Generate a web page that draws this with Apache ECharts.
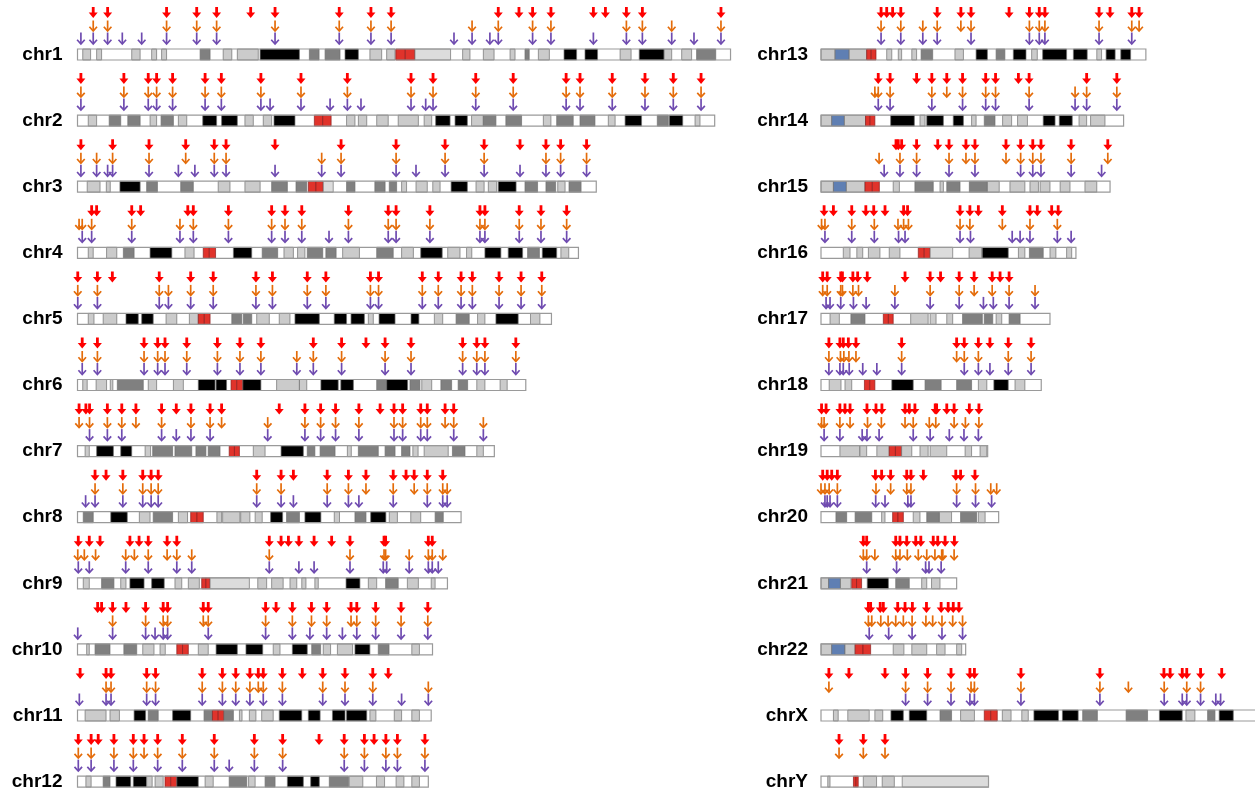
<!DOCTYPE html>
<html><head><meta charset="utf-8">
<script src="https://cdn.jsdelivr.net/npm/echarts@6/dist/echarts.min.js"></script>
<style>html,body{margin:0;padding:0;background:#fff}#c{width:1255px;height:793px}</style>
</head><body><div id="c"></div>
<script>
// ---------- DATA ----------
const chromNames = ['chr1','chr2','chr3','chr4','chr5','chr6','chr7','chr8','chr9','chr10','chr11','chr12',
  'chr13','chr14','chr15','chr16','chr17','chr18','chr19','chr20','chr21','chr22','chrX','chrY'];
// chromosome lengths (Mb)
const chromLengths = [249.25,243.2,198.0,191.2,180.9,171.1,159.1,146.4,141.2,135.5,135.0,133.9,
  115.2,107.3,102.5,90.4,81.2,78.1,59.1,63.0,48.1,51.3,155.3,59.4];

// arrow positions (Mb) — red (top row)
const redSites = [
 [6.0,11.5,34.0,45.5,53.1,66.1,75.4,99.9,112.0,119.7,160.6,168.5,173.7,180.7,196.9,201.5,209.5,215.6,245.6],
 [1.3,17.7,27.0,30.2,36.3,48.7,54.9,70.0,85.3,103.0,127.3,135.7,152.0,166.3,186.5,191.8,204.1,216.6,227.4,238.0],
 [1.3,13.4,27.3,41.3,52.2,56.7,75.4,100.6,121.6,140.3,155.2,168.9,178.8,184.4,194.3],
 [5.4,7.3,20.7,24.1,42.1,44.2,57.6,74.1,79.2,85.6,103.4,118.6,121.6,134.5,153.6,155.5,168.6,176.9,186.7],
 [0.1,7.6,13.3,31.2,43.2,51.8,68.1,74.4,87.7,94.8,111.8,114.9,131.6,137.7,146.4,150.7,160.9,169.3,177.2],
 [1.8,7.6,25.4,30.6,33.4,41.7,53.4,62.0,70.0,90.0,100.8,110.1,117.4,127.3,147.0,152.4,155.5,167.3],
 [0.6,3.2,4.6,11.4,16.9,22.3,32.1,37.7,43.3,50.6,55.0,77.0,86.8,92.8,98.5,107.4,115.5,120.8,124.1,131.0,133.5,140.3,143.6],
 [6.7,10.9,17.3,24.9,28.1,30.8,68.4,77.7,82.4,95.3,103.4,110.1,120.5,125.4,128.5,133.5,139.4],
 [0.3,4.5,8.6,20.0,23.5,27.0,34.2,37.9,73.2,77.7,80.5,84.5,90.3,97.0,104.0,117.0,117.6,133.9,135.4],
 [7.7,9.2,13.4,18.5,26.0,32.7,34.4,48.0,49.9,71.8,75.8,82.0,89.3,95.1,104.4,106.6,113.8,123.5,133.7],
 [1.0,10.9,12.8,26.4,29.8,47.6,55.3,60.4,65.8,69.0,70.9,78.2,85.8,93.6,102.1,112.7,118.6],
 [0.3,5.2,7.9,13.9,21.3,25.4,30.6,40.0,52.2,67.5,78.3,92.2,101.8,109.5,113.2,117.7,122.1,132.6],
 [21.3,23.3,25.4,28.3,41.2,49.6,53.2,66.7,73.9,77.4,79.4,98.6,102.5,110.2,112.8],
 [20.3,24.5,33.9,39.3,44.6,50.2,58.4,61.9,70.0,73.8,94.2,104.9],
 [26.6,27.4,28.6,33.9,41.4,45.4,51.4,54.6,65.6,70.8,75.1,78.0,88.7,101.7],
 [1.1,4.4,10.9,15.9,18.7,22.7,29.3,30.7,49.3,52.8,55.8,64.3,74.1,76.7,81.8,84.1],
 [0.6,2.2,7.0,7.6,11.3,13.0,16.4,29.8,38.7,42.4,49.0,54.3,60.7,63.5,66.7],
 [2.8,6.7,7.9,9.7,12.4,28.6,48.1,50.8,55.8,59.9,66.4,74.5],
 [0.2,1.8,6.7,8.5,10.3,16.3,19.5,21.6,29.8,31.3,33.3,40.5,41.0,44.6,47.2,52.6,56.0],
 [0.6,2.2,3.8,5.8,19.3,21.5,24.7,30.4,31.9,36.3,47.8,49.5,54.6],
 [15.0,16.2,26.5,28.0,30.4,33.6,35.4,39.8,41.4,44.0,47.3],
 [16.8,17.6,21.0,22.1,27.2,29.8,32.4,37.4,42.6,45.1,46.9,48.9],
 [2.8,9.9,22.7,30.0,37.8,46.1,52.8,54.4,70.9,98.9,121.6,123.8,128.1,129.7,134.6,142.1],
 [6.4,15.0,22.7]
];
// orange (middle row)
const orangeSites = [
 [6.0,11.5,34.0,45.5,53.1,75.4,99.9,112.0,119.7,150.6,160.6,173.7,180.7,209.5,215.6,226.8,245.6],
 [1.3,17.7,27.0,30.2,36.3,48.7,54.9,70.0,85.3,103.0,127.3,135.7,152.0,166.3,186.5,191.8,204.1,216.6,227.4,238.0],
 [1.3,7.3,13.4,27.3,41.3,52.2,56.7,93.2,100.6,121.6,140.3,155.2,178.8,184.4,194.3],
 [0.6,1.8,5.4,20.7,39.1,44.2,57.6,74.1,79.2,85.6,103.4,118.6,121.6,134.5,153.6,155.5,168.6,176.9,186.7],
 [0.1,7.6,31.2,34.7,43.2,51.8,68.1,74.4,87.7,94.8,111.8,114.9,131.6,137.7,146.4,150.7,160.9,169.3,177.2],
 [1.8,7.6,25.4,30.6,33.4,41.7,53.4,62.0,70.0,83.7,90.0,100.8,117.4,127.3,147.0,152.4,155.5,167.3],
 [0.6,4.6,11.4,16.9,22.3,32.1,43.3,50.6,55.0,72.6,86.8,92.8,98.5,107.4,120.8,124.1,131.0,133.5,140.3,143.6,154.9],
 [6.7,17.3,24.9,28.1,30.8,68.4,77.7,95.3,103.4,110.1,120.5,128.5,133.5,139.4,141.1],
 [0.1,2.6,6.9,18.4,21.7,27.0,34.2,37.9,43.6,73.2,104.0,117.0,117.6,126.6,133.9,135.4,139.4],
 [13.4,26.0,32.7,34.4,48.0,49.9,71.8,82.0,89.3,95.1,104.4,106.6,113.8,123.5,133.7],
 [10.9,12.8,26.4,29.8,47.6,55.3,60.4,65.8,69.0,70.9,78.2,93.6,102.1,112.7,133.9],
 [0.3,5.2,13.9,21.3,25.4,30.6,40.0,52.2,67.5,78.3,101.8,109.5,117.7,122.1,132.6],
 [21.3,28.3,36.1,41.2,49.6,53.2,73.9,77.4,79.4,98.6,110.2,112.8],
 [19.1,20.3,24.5,39.3,44.6,50.2,58.4,61.9,73.8,90.1,94.2,104.9],
 [20.6,28.0,33.9,45.4,51.4,54.6,65.6,70.8,75.1,78.0,88.7,101.7],
 [0.2,1.4,10.9,18.9,27.3,29.3,31.0,49.3,52.8,64.3,74.1,83.8],
 [0.6,2.2,7.0,7.6,11.3,13.3,26.2,38.7,49.0,54.3,60.7,66.7,75.9],
 [2.8,6.9,8.1,9.9,12.4,28.6,48.1,50.8,55.8,66.4,74.5],
 [0.2,1.1,6.7,10.3,16.5,21.4,29.8,32.7,38.4,40.7,47.2,51.2,56.0],
 [0.0,1.4,2.9,5.8,19.5,24.7,30.4,31.9,48.1,54.8,60.2,62.3],
 [15.0,16.2,19.1,26.5,28.0,30.6,34.5,37.5,40.4,42.8,43.2,47.2],
 [16.8,18.0,21.2,23.8,26.5,29.2,32.3,37.2,39.6,42.9,46.7,50.2],
 [2.8,30.0,37.8,46.1,53.2,54.4,70.9,98.9,109.0,121.7,129.7,134.6],
 [6.4,15.0,22.7]
];
// purple (bottom row)
const purpleSites = [
 [1.3,6.0,11.5,17.1,24.5,34.0,45.5,53.1,75.4,99.9,112.0,119.7,143.7,150.6,157.4,160.6,173.7,180.7,196.9,209.5,215.6,226.8,235.3,245.6],
 [1.3,17.7,27.0,30.2,36.3,48.7,54.9,70.0,73.5,85.3,96.4,103.0,108.2,127.3,132.9,135.7,152.0,166.3,186.5,191.8,204.1,216.6,227.4,238.0],
 [1.3,7.3,11.5,13.4,27.3,38.5,44.8,52.2,56.7,75.4,93.2,100.6,121.6,129.2,140.3,155.2,168.9,178.8,184.4,194.3],
 [1.8,5.4,20.7,39.1,44.2,57.6,74.1,79.2,85.6,96.0,103.4,118.6,121.6,134.5,153.6,155.5,168.6,176.9,186.7],
 [0.1,7.6,31.2,34.7,43.2,51.8,68.1,74.4,87.7,94.8,111.8,114.9,131.6,137.7,146.4,150.7,160.9,169.3,177.2],
 [1.8,7.6,25.4,30.6,33.4,41.7,53.4,62.0,70.0,83.7,90.0,100.8,117.4,127.3,147.0,152.4,155.5,167.3],
 [4.6,11.4,16.9,32.1,37.7,43.3,50.6,72.6,86.8,92.8,98.5,107.4,120.8,124.1,131.0,133.5,143.6,154.9],
 [3.1,6.7,17.3,24.9,28.1,30.8,68.4,77.7,82.4,95.3,103.4,107.4,120.5,133.5,139.4,141.1],
 [0.3,4.5,18.4,27.0,37.9,43.6,73.2,84.5,90.3,104.0,116.7,118.0,126.6,133.9,135.4,137.7],
 [0.1,13.4,26.0,29.6,32.7,34.4,49.9,71.8,82.0,88.7,95.1,101.1,106.6,113.8,123.5,133.7],
 [0.7,10.9,12.8,26.4,29.8,47.6,55.3,60.4,65.8,70.9,78.2,93.6,102.1,112.7,123.7,133.9],
 [0.3,5.2,13.9,21.3,30.6,40.0,52.2,57.9,67.5,78.3,101.8,109.5,117.7,122.1,132.6],
 [21.3,28.3,36.1,41.2,53.2,73.9,77.4,79.4,98.6,110.2],
 [20.3,24.5,39.3,50.2,58.4,61.9,73.8,90.1,94.2,104.9],
 [22.4,28.0,33.9,45.4,54.6,70.8,75.1,78.0,88.7,99.5],
 [1.4,10.9,18.9,27.5,29.8,49.3,53.0,67.8,70.6,74.1,83.8,88.7],
 [1.8,3.2,7.0,11.5,16.0,26.2,38.7,49.0,57.6,61.1,66.7,75.9],
 [2.8,6.7,7.9,10.0,14.8,19.8,28.6,50.8,55.8,59.9,66.4,74.5],
 [1.1,6.7,14.6,16.3,20.6,32.7,38.7,45.5,50.7,55.8],
 [1.4,2.2,3.2,5.8,19.4,22.7,30.8,31.9,48.1,54.8,60.5],
 [16.2,26.8,37.1,38.3,42.6],
 [17.1,24.0,32.3,42.9,50.2],
 [30.0,37.8,46.1,52.8,54.4,70.9,98.9,121.7,128.1,129.7,134.6,140.0,141.7],
 []
];

// cytobands [start Mb, end Mb, stain]  l=light grey, v=variable, d=dark grey, b=black, c=centromere, s=stalk
const bands = [
 [[2.0,5.0,'l'],[7.3,9.2,'l'],[20.7,23.9,'l'],[28.3,30.2,'l'],[32.1,34.0,'l'],[46.8,50.6,'d'],[55.6,58.9,'l'],[61.0,69.0,'l'],[69.7,84.7,'b'],[88.5,92.2,'d'],[94.5,100.2,'d'],[102.1,107.2,'b'],[111.6,116.1,'l'],[118.0,121.2,'l'],[121.5,125.1,'c'],[125.1,128.8,'c'],[128.8,142.4,'v'],[147.0,149.8,'l'],[154.9,159.0,'l'],[165.1,167.0,'l'],[170.8,172.4,'d'],[175.9,180.1,'l'],[185.7,190.5,'b'],[193.7,198.5,'b'],[207.1,211.3,'l'],[214.4,223.9,'b'],[223.9,226.8,'l'],[230.6,234.4,'l'],[236.3,243.6,'d']],
 [[4.1,7.3,'l'],[12.1,16.5,'d'],[19.2,23.9,'d'],[27.7,30.2,'l'],[31.9,36.6,'d'],[38.5,41.7,'l'],[47.8,53.1,'b'],[55.0,61.0,'b'],[63.9,67.1,'l'],[70.9,74.1,'l'],[75.0,83.0,'b'],[90.4,93.6,'c'],[93.6,96.8,'c'],[102.7,105.9,'l'],[107.2,110.4,'l'],[114.2,118.6,'l'],[122.4,130.1,'l'],[132.3,135.2,'l'],[136.7,142.2,'b'],[144.1,148.8,'b'],[150.4,154.9,'l'],[154.9,159.7,'d'],[163.5,169.5,'d'],[177.8,180.7,'l'],[182.9,189.2,'d'],[191.8,197.5,'d'],[202.6,205.2,'l'],[209.0,215.3,'b'],[221.3,225.5,'d'],[225.9,231.0,'b'],[235.7,237.6,'l']],
 [[3.7,8.6,'l'],[11.0,12.5,'l'],[16.2,23.9,'b'],[26.4,30.5,'d'],[39.4,44.2,'d'],[53.7,58.2,'l'],[63.9,69.7,'l'],[74.1,80.1,'d'],[83.4,87.5,'d'],[88.1,91.0,'c'],[91.0,93.8,'c'],[93.8,97.6,'v'],[102.7,105.9,'d'],[113.5,117.4,'d'],[119.0,121.8,'d'],[123.7,125.6,'l'],[129.2,133.5,'l'],[135.6,138.4,'l'],[142.6,148.8,'b'],[152.1,155.2,'l'],[156.8,160.0,'l'],[160.6,167.4,'b'],[170.8,175.6,'d'],[178.8,182.5,'d'],[183.3,186.1,'l'],[187.6,192.2,'d']],
 [[4.1,6.0,'l'],[11.1,15.0,'l'],[17.5,21.6,'d'],[27.7,36.0,'b'],[41.0,44.5,'l'],[48.0,50.3,'c'],[50.3,52.7,'c'],[59.5,66.5,'b'],[70.5,76.4,'d'],[78.8,82.4,'l'],[84.0,86.8,'l'],[87.7,93.6,'d'],[94.8,98.7,'d'],[101.2,107.6,'l'],[114.2,120.5,'d'],[123.7,128.2,'l'],[131.0,139.2,'b'],[141.3,146.0,'l'],[148.5,150.5,'l'],[155.5,161.6,'b'],[164.4,169.9,'b'],[171.8,176.3,'d'],[177.4,182.9,'b'],[184.5,187.5,'l']],
 [[4.1,6.3,'l'],[9.8,15.0,'l'],[18.5,23.2,'b'],[24.5,28.9,'b'],[33.8,37.9,'l'],[42.7,46.1,'l'],[46.1,48.4,'c'],[48.4,50.6,'c'],[58.9,62.7,'d'],[63.3,66.5,'d'],[68.4,73.2,'l'],[77.0,81.1,'l'],[83.0,92.3,'b'],[98.0,102.7,'b'],[104.4,109.5,'b'],[111.0,112.9,'l'],[115.1,121.2,'b'],[127.3,130.3,'b'],[136.2,139.4,'l'],[144.5,149.5,'d'],[152.7,155.5,'l'],[159.7,168.2,'b'],[172.9,176.5,'l']],
 [[2.0,3.7,'l'],[7.1,11.1,'l'],[12.5,13.5,'l'],[15.2,25.1,'d'],[27.0,30.2,'l'],[36.6,40.4,'l'],[46.1,52.5,'b'],[52.9,56.9,'b'],[58.6,60.8,'c'],[60.8,63.1,'c'],[63.1,70.0,'b'],[76.0,84.7,'l'],[84.7,87.5,'l'],[92.9,99.5,'b'],[100.5,105.3,'b'],[114.2,118.0,'d'],[118.0,126.0,'b'],[126.9,130.7,'d'],[131.4,135.2,'l'],[138.7,142.8,'d'],[145.3,148.9,'d'],[152.4,155.5,'l'],[161.3,164.0,'l']],
 [[2.9,4.5,'l'],[7.3,13.7,'b'],[16.5,20.7,'b'],[25.8,27.9,'l'],[28.7,36.3,'d'],[37.2,43.6,'d'],[45.2,49.0,'d'],[49.9,54.4,'d'],[57.9,59.9,'c'],[59.9,61.8,'c'],[67.1,71.6,'l'],[77.7,86.2,'b'],[87.7,90.6,'d'],[92.6,98.3,'d'],[103.0,104.5,'l'],[107.2,114.8,'d'],[117.4,121.2,'d'],[123.7,126.9,'d'],[128.0,130.0,'l'],[132.3,141.5,'l'],[143.1,147.9,'d'],[152.4,154.9,'l']],
 [[2.2,6.0,'d'],[12.7,19.0,'b'],[23.6,27.7,'l'],[28.9,36.3,'d'],[38.5,42.0,'l'],[43.2,45.6,'c'],[45.6,48.0,'c'],[53.2,55.0,'l'],[55.4,62.0,'l'],[62.3,65.8,'l'],[67.8,70.5,'l'],[73.7,78.3,'b'],[79.8,84.7,'d'],[86.8,92.9,'b'],[98.0,100.0,'l'],[105.9,110.1,'d'],[111.9,117.7,'b'],[119.0,122.1,'l'],[127.2,131.0,'l'],[136.5,139.6,'d']],
 [[2.2,4.5,'l'],[9.2,13.9,'d'],[16.5,18.5,'l'],[20.0,25.4,'b'],[28.3,33.1,'b'],[37.2,39.8,'l'],[42.3,46.5,'l'],[47.4,49.0,'c'],[49.0,50.6,'c'],[50.6,65.6,'v'],[68.8,72.2,'l'],[74.1,78.5,'l'],[81.1,83.7,'l'],[85.6,87.2,'l'],[90.6,91.9,'l'],[102.5,107.8,'b'],[111.0,114.2,'l'],[117.6,122.4,'d'],[125.9,130.1,'l'],[135.0,136.5,'l']],
 [[3.5,4.5,'l'],[6.7,12.4,'d'],[17.7,22.6,'d'],[24.9,29.2,'l'],[31.5,33.5,'l'],[37.9,40.1,'c'],[40.1,42.3,'c'],[46.1,49.9,'l'],[52.9,61.0,'b'],[64.3,70.7,'b'],[74.7,77.3,'l'],[82.0,87.7,'b'],[89.4,92.8,'d'],[93.8,96.6,'l'],[99.2,105.0,'l'],[105.9,111.6,'b'],[114.8,118.9,'d'],[127.6,130.5,'l']],
 [[2.9,10.9,'l'],[12.4,16.0,'l'],[21.6,26.0,'b'],[27.0,30.8,'d'],[36.3,43.2,'b'],[48.3,51.5,'d'],[51.5,53.7,'c'],[53.7,55.9,'c'],[55.9,59.5,'d'],[61.8,62.8,'l'],[65.6,68.1,'l'],[70.3,74.7,'l'],[77.0,85.6,'b'],[88.1,92.6,'b'],[97.3,102.1,'b'],[102.7,110.4,'b'],[111.6,113.9,'l'],[120.9,123.7,'l'],[127.6,130.5,'l']],
 [[3.2,5.2,'l'],[9.8,12.4,'d'],[14.7,20.3,'b'],[21.3,26.4,'b'],[26.4,28.5,'l'],[29.6,32.7,'l'],[33.4,35.6,'c'],[35.6,37.9,'c'],[37.9,46.1,'b'],[48.7,51.8,'l'],[57.9,64.6,'d'],[65.3,67.8,'l'],[71.6,75.4,'d'],[80.1,86.2,'b'],[89.0,92.3,'b'],[96.1,103.4,'d'],[103.7,108.9,'l'],[114.1,117.2,'l'],[121.6,124.6,'l'],[127.6,130.5,'l']],
 [[0,5.0,'l'],[5.0,10.0,'s'],[10.0,16.2,'l'],[16.2,17.8,'c'],[17.8,19.5,'c'],[23.3,25.1,'l'],[27.4,28.6,'l'],[32.2,33.9,'l'],[35.5,39.6,'d'],[47.5,50.5,'l'],[55.0,59.0,'b'],[62.1,65.2,'d'],[68.2,72.7,'b'],[74.7,76.7,'l'],[78.6,87.1,'b'],[89.5,94.4,'b'],[97.8,99.5,'l'],[101.1,104.3,'b'],[106.3,109.8,'b']],
 [[0,3.8,'l'],[3.8,8.3,'s'],[8.3,15.8,'l'],[15.8,17.4,'c'],[17.4,19.1,'c'],[24.7,33.1,'b'],[35.1,36.9,'l'],[37.5,43.4,'b'],[46.9,50.5,'b'],[53.4,55.0,'l'],[57.9,61.7,'d'],[64.4,67.6,'l'],[69.7,73.2,'l'],[78.8,83.0,'b'],[84.5,89.1,'b'],[91.5,94.2,'l'],[95.6,100.7,'l']],
 [[0,4.4,'l'],[4.4,9.0,'s'],[9.0,15.6,'l'],[15.6,18.2,'c'],[18.2,20.7,'c'],[25.6,27.8,'l'],[33.3,39.8,'d'],[42.2,43.4,'l'],[44.6,49.3,'d'],[52.6,59.0,'d'],[59.0,63.2,'l'],[67.0,72.3,'l'],[74.1,77.1,'l'],[77.7,81.2,'l'],[84.8,88.3,'l'],[93.6,97.8,'l']],
 [[7.9,10.3,'l'],[12.7,14.8,'l'],[16.8,20.9,'l'],[24.2,28.0,'l'],[34.5,36.6,'c'],[36.6,38.7,'c'],[38.7,46.7,'v'],[52.5,57.0,'l'],[57.2,66.4,'b'],[70.0,72.3,'l'],[73.9,78.8,'d'],[81.2,83.3,'l'],[87.1,88.9,'l']],
 [[3.2,6.5,'l'],[10.6,15.6,'d'],[22.1,23.9,'c'],[23.9,25.6,'c'],[31.8,38.0,'l'],[38.7,40.8,'l'],[44.6,46.7,'l'],[50.2,57.2,'d'],[57.9,60.9,'d'],[62.1,64.1,'l'],[66.7,70.6,'d']],
 [[2.9,7.1,'l'],[8.5,10.9,'l'],[15.4,17.3,'c'],[17.3,19.1,'c'],[25.1,32.7,'b'],[36.9,42.6,'d'],[48.1,53.4,'d'],[55.8,58.8,'l'],[61.3,66.4,'b'],[68.8,72.3,'l']],
 [[6.7,13.8,'l'],[13.8,16.2,'l'],[19.8,24.2,'l'],[24.2,26.4,'c'],[26.4,28.6,'c'],[28.6,32.2,'l'],[35.1,38.0,'l'],[38.7,44.6,'l'],[51.1,53.4,'l'],[56.4,58.8,'l']],
 [[5.3,9.1,'d'],[12.1,18.0,'d'],[21.5,22.7,'l'],[25.4,27.3,'c'],[27.3,29.2,'c'],[32.7,35.1,'l'],[37.5,42.0,'d'],[42.0,46.3,'l'],[49.5,55.2,'d'],[55.8,58.2,'l']],
 [[0,2.7,'l'],[2.7,6.9,'s'],[6.9,10.6,'l'],[10.9,12.6,'c'],[12.6,14.4,'c'],[16.4,23.9,'b'],[26.5,31.3,'d'],[35.7,37.5,'l'],[39.2,42.2,'l']],
 [[0,3.8,'l'],[3.8,8.5,'s'],[8.5,12.1,'l'],[12.1,14.9,'c'],[14.9,17.6,'c'],[25.6,29.4,'l'],[32.2,37.5,'l'],[41.0,44.0,'l'],[48.1,49.9,'l']],
 [[4.4,6.1,'l'],[9.5,17.1,'l'],[19.1,21.9,'l'],[24.8,29.2,'b'],[31.3,37.5,'b'],[42.2,46.3,'d'],[49.5,54.4,'l'],[57.9,60.2,'c'],[60.2,62.5,'c'],[64.3,67.4,'l'],[71.2,73.5,'l'],[75.5,84.2,'b'],[85.6,91.2,'b'],[92.8,98.0,'d'],[108.2,115.8,'d'],[120.0,128.1,'b'],[129.4,132.6,'l'],[137.1,139.7,'d'],[141.2,146.2,'b']],
 [[2.4,3.2,'l'],[11.5,12.4,'c'],[12.4,13.2,'c'],[15.0,19.7,'l'],[21.7,26.0,'l'],[28.8,59.4,'v']]
];

// ---------- STYLE ----------
const STAINS = ['l','v','d','b','c','s'];
const STAIN_COLOR = {l:'#cbcbcb', v:'#dcdcdc', d:'#808080', b:'#000000', c:'#e0332b', s:'#5f7fb3'};
const RED = '#ff0000', ORANGE = '#e46c0a', PURPLE = '#6f4bb0';
const BAR_H = 11;
const ROW = 66.1;
const FIRST_ROW_Y = 54.5;

const chart = echarts.init(document.getElementById('c'), null, {renderer:'canvas'});

function outlineItem(fillOnly){
  return function(params, api){
    const row = api.value(1);
    const a = api.coord([0, row]);
    const b = api.coord([api.value(0), row]);
    return {type:'rect', shape:{x:a[0], y:a[1]-BAR_H/2, width:b[0]-a[0], height:BAR_H},
      style: fillOnly ? {fill:'#ffffff', stroke:null} : {fill:null, stroke:'#9a9a9a', lineWidth:1.2}};
  };
}
function bandItem(params, api){
  const row = api.value(2);
  const a = api.coord([api.value(0), row]);
  const b = api.coord([api.value(1), row]);
  const s = STAINS[api.value(3)];
  return {type:'rect', shape:{x:a[0], y:a[1]-BAR_H/2, width:b[0]-a[0], height:BAR_H},
    style:{fill:STAIN_COLOR[s], stroke: s==='c' ? '#8a1e1e' : '#707070', lineWidth:0.7}};
}
function arrowItem(kind){
  return function(params, api){
    const p = api.coord([api.value(0), api.value(1)]);
    const x = p[0], c = p[1];
    if (kind === 'red'){
      const top = c-47.5, hb = c-42, tip = c-36.5;
      return {type:'polygon', shape:{points:[[x-1.4,top],[x+1.4,top],[x+1.4,hb],[x+4.5,hb],[x,tip],[x-4.5,hb],[x-1.4,hb]]},
        style:{fill:RED}};
    }
    const col = kind === 'orange' ? ORANGE : PURPLE;
    const top = kind === 'orange' ? c-34 : c-22;
    const tip = kind === 'orange' ? c-23.5 : c-10.5;
    return {type:'group', children:[
      {type:'line', shape:{x1:x, y1:top, x2:x, y2:tip-0.8}, style:{stroke:col, lineWidth:1.7}},
      {type:'polyline', shape:{points:[[x-3.8,tip-4.2],[x,tip],[x+3.8,tip-4.2]]}, style:{stroke:col, lineWidth:1.7, fill:null}}
    ]};
  };
}

const series = [];
const grids = [], xAxes = [], yAxes = [];
const columns = [
  {idx:[0,1,2,3,4,5,6,7,8,9,10,11], left:77.5, pxPerMb:2.62, max:250, margin:15},
  {idx:[12,13,14,15,16,17,18,19,20,21,22,23], left:821, pxPerMb:2.82, max:153.9, margin:13}
];
columns.forEach((col, g) => {
  // category rows with boundaryGap:false -> first row at top edge, last row at bottom edge
  grids.push({left:col.left, top:FIRST_ROW_Y, width:col.max*col.pxPerMb, height:11*ROW, containLabel:false});
  xAxes.push({gridIndex:g, type:'value', min:0, max:col.max, show:false});
  yAxes.push({gridIndex:g, type:'category', inverse:true, boundaryGap:false, data:col.idx.map(i=>chromNames[i]),
    axisLine:{show:false}, axisTick:{show:false}, splitLine:{show:false},
    axisLabel:{margin:col.margin, color:'#000', fontSize:19, fontWeight:'bold', fontFamily:'Liberation Sans, Arial, sans-serif'}});
  const outlineData = col.idx.map((ci,r)=>[chromLengths[ci], r]);
  const bandData = [];
  col.idx.forEach((ci,r)=>bands[ci].forEach(b=>bandData.push([b[0], b[1], r, STAINS.indexOf(b[2])])));
  const mk = arr => { const d=[]; col.idx.forEach((ci,r)=>arr[ci].forEach(v=>d.push([v,r]))); return d; };
  const common = {xAxisIndex:g, yAxisIndex:g, silent:true, animation:false, clip:false};
  series.push(Object.assign({type:'custom', renderItem:outlineItem(true), data:outlineData, encode:{x:0,y:1}}, common));
  series.push(Object.assign({type:'custom', renderItem:bandItem, data:bandData, encode:{x:[0,1],y:2}}, common));
  series.push(Object.assign({type:'custom', renderItem:outlineItem(false), data:outlineData, encode:{x:0,y:1}}, common));
  series.push(Object.assign({type:'custom', renderItem:arrowItem('purple'), data:mk(purpleSites), encode:{x:0,y:1}}, common));
  series.push(Object.assign({type:'custom', renderItem:arrowItem('orange'), data:mk(orangeSites), encode:{x:0,y:1}}, common));
  series.push(Object.assign({type:'custom', renderItem:arrowItem('red'), data:mk(redSites), encode:{x:0,y:1}}, common));
});

chart.setOption({animation:false, backgroundColor:'#ffffff', grid:grids, xAxis:xAxes, yAxis:yAxes, series:series});
</script>
</body></html>
